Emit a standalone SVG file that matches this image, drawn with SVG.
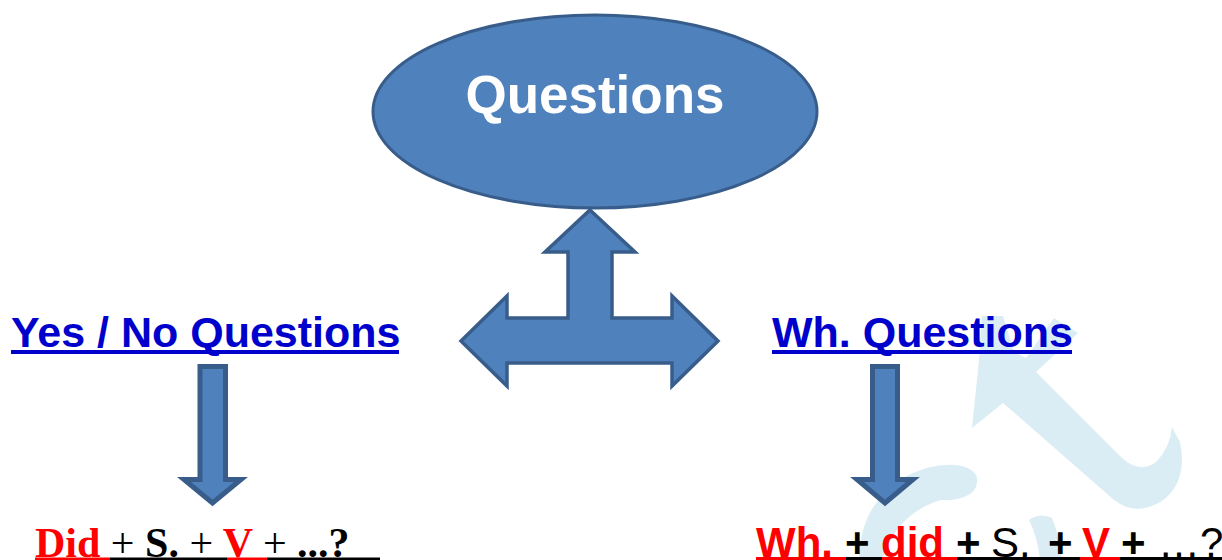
<svg xmlns="http://www.w3.org/2000/svg" width="1222" height="560" viewBox="0 0 1222 560">
  <style>
    .shape { fill: #4F81BD; stroke: #385D8A; stroke-linejoin: miter; }
    .wm { fill: #DAEDF4; stroke: none; }
    .head { font-family: "Liberation Sans", Arial, sans-serif; font-weight: bold; font-size: 43px; fill: #0000CC; }
    .ul-blue { fill: #0000CC; }
    .serif { font-family: "Liberation Serif", "Times New Roman", serif; font-size: 42px; fill: #000; }
    .sans { font-family: "Liberation Sans", Arial, sans-serif; font-size: 42px; fill: #000; }
    .b { font-weight: bold; }
    .r { fill: #FF0000; }
    .n { font-weight: normal; }
  </style>
  <rect width="1222" height="560" fill="#FFFFFF"/>

  <g id="watermark">
    <path class="wm" d="M972,428 L979,360 L982,316 L1003,316 L1014,352 L1026,358 L1054,318 L1078,333 L1036,372 L1122,458 Q1140,474 1156,462 Q1170,448 1172,427 L1180,442 Q1188,482 1162,501 Q1136,517 1114,500 L1003,403 Z"/>
    <path class="wm" d="M859,560 Q860,503 905,477 Q935,461 962,466 Q983,472 975,489 Q966,501 941,500 Q897,513 882,560 Z"/>
    <path class="wm" d="M1029,520 Q1040,512 1052,518 Q1060,538 1062,560 L1040,560 Q1038,538 1029,520 Z"/>
  </g>

  <g id="connectors">
    <path id="triple-arrow" class="shape" stroke-width="3.5" stroke-linejoin="round" d="M590,210 L635,252 L612,252 L612,318 L672,318 L672,296 L718,341 L672,386 L672,363 L507,363 L507,386 L461,341 L507,296 L507,318 L568,318 L568,252 L545,252 Z"/>
    <path id="arrow-left-down" class="shape" stroke-width="5" d="M200,366.5 L225.5,366.5 L225.5,479.5 L241,479.5 L212.5,503 L184,479.5 L200,479.5 Z"/>
    <path id="arrow-right-down" class="shape" stroke-width="5" d="M872.5,366.5 L897.5,366.5 L897.5,479.5 L913,479.5 L885,503 L857,479.5 L872.5,479.5 Z"/>
  </g>

  <g id="questions">
    <ellipse class="shape" stroke-width="3" cx="595" cy="111.5" rx="222" ry="96.5"/>
    <text x="595" y="113" text-anchor="middle" font-family="'Liberation Sans', Arial, sans-serif" font-weight="bold" font-size="53" fill="#FFFFFF">Questions</text>
  </g>

  <g id="yes-no-questions">
    <text class="head" x="11" y="347">Yes / No Questions</text>
    <rect class="ul-blue" x="11" y="350" width="388" height="4"/>
  </g>

  <g id="wh-questions">
    <text class="head" x="772" y="347">Wh. Questions</text>
    <rect class="ul-blue" x="772" y="350" width="300" height="4"/>
  </g>

  <g id="formula-left">
    <text class="serif b" x="35" y="557"><tspan class="r">Did</tspan> <tspan class="n">+</tspan> S. <tspan class="n">+</tspan> <tspan class="r">V</tspan> <tspan class="n">+</tspan> ...?</text>
    <rect x="35" y="557.5" width="75" height="2.5" fill="#FF0000"/>
    <rect x="110" y="557.5" width="117" height="2.5" fill="#000"/>
    <rect x="227" y="557.5" width="40" height="2.5" fill="#FF0000"/>
    <rect x="267" y="557.5" width="113" height="2.5" fill="#000"/>
  </g>

  <g id="formula-right">
    <text class="sans" y="557"><tspan class="b r" x="756">Wh.</tspan><tspan class="b" x="845">+</tspan><tspan class="b r" x="881">did</tspan><tspan class="b" x="956">+</tspan><tspan x="991">S.</tspan><tspan class="b" x="1048">+</tspan><tspan class="b r" x="1082">V</tspan><tspan class="b" x="1121">+</tspan><tspan x="1158">…?</tspan></text>
    <rect x="756" y="557" width="90" height="3" fill="#FF0000"/>
    <rect x="846" y="557" width="36" height="3" fill="#000"/>
    <rect x="882" y="557" width="75" height="3" fill="#FF0000"/>
    <rect x="957" y="557" width="123" height="3" fill="#000"/>
    <rect x="1080" y="557" width="40" height="3" fill="#FF0000"/>
    <rect x="1120" y="557" width="102" height="3" fill="#000"/>
  </g>
</svg>
